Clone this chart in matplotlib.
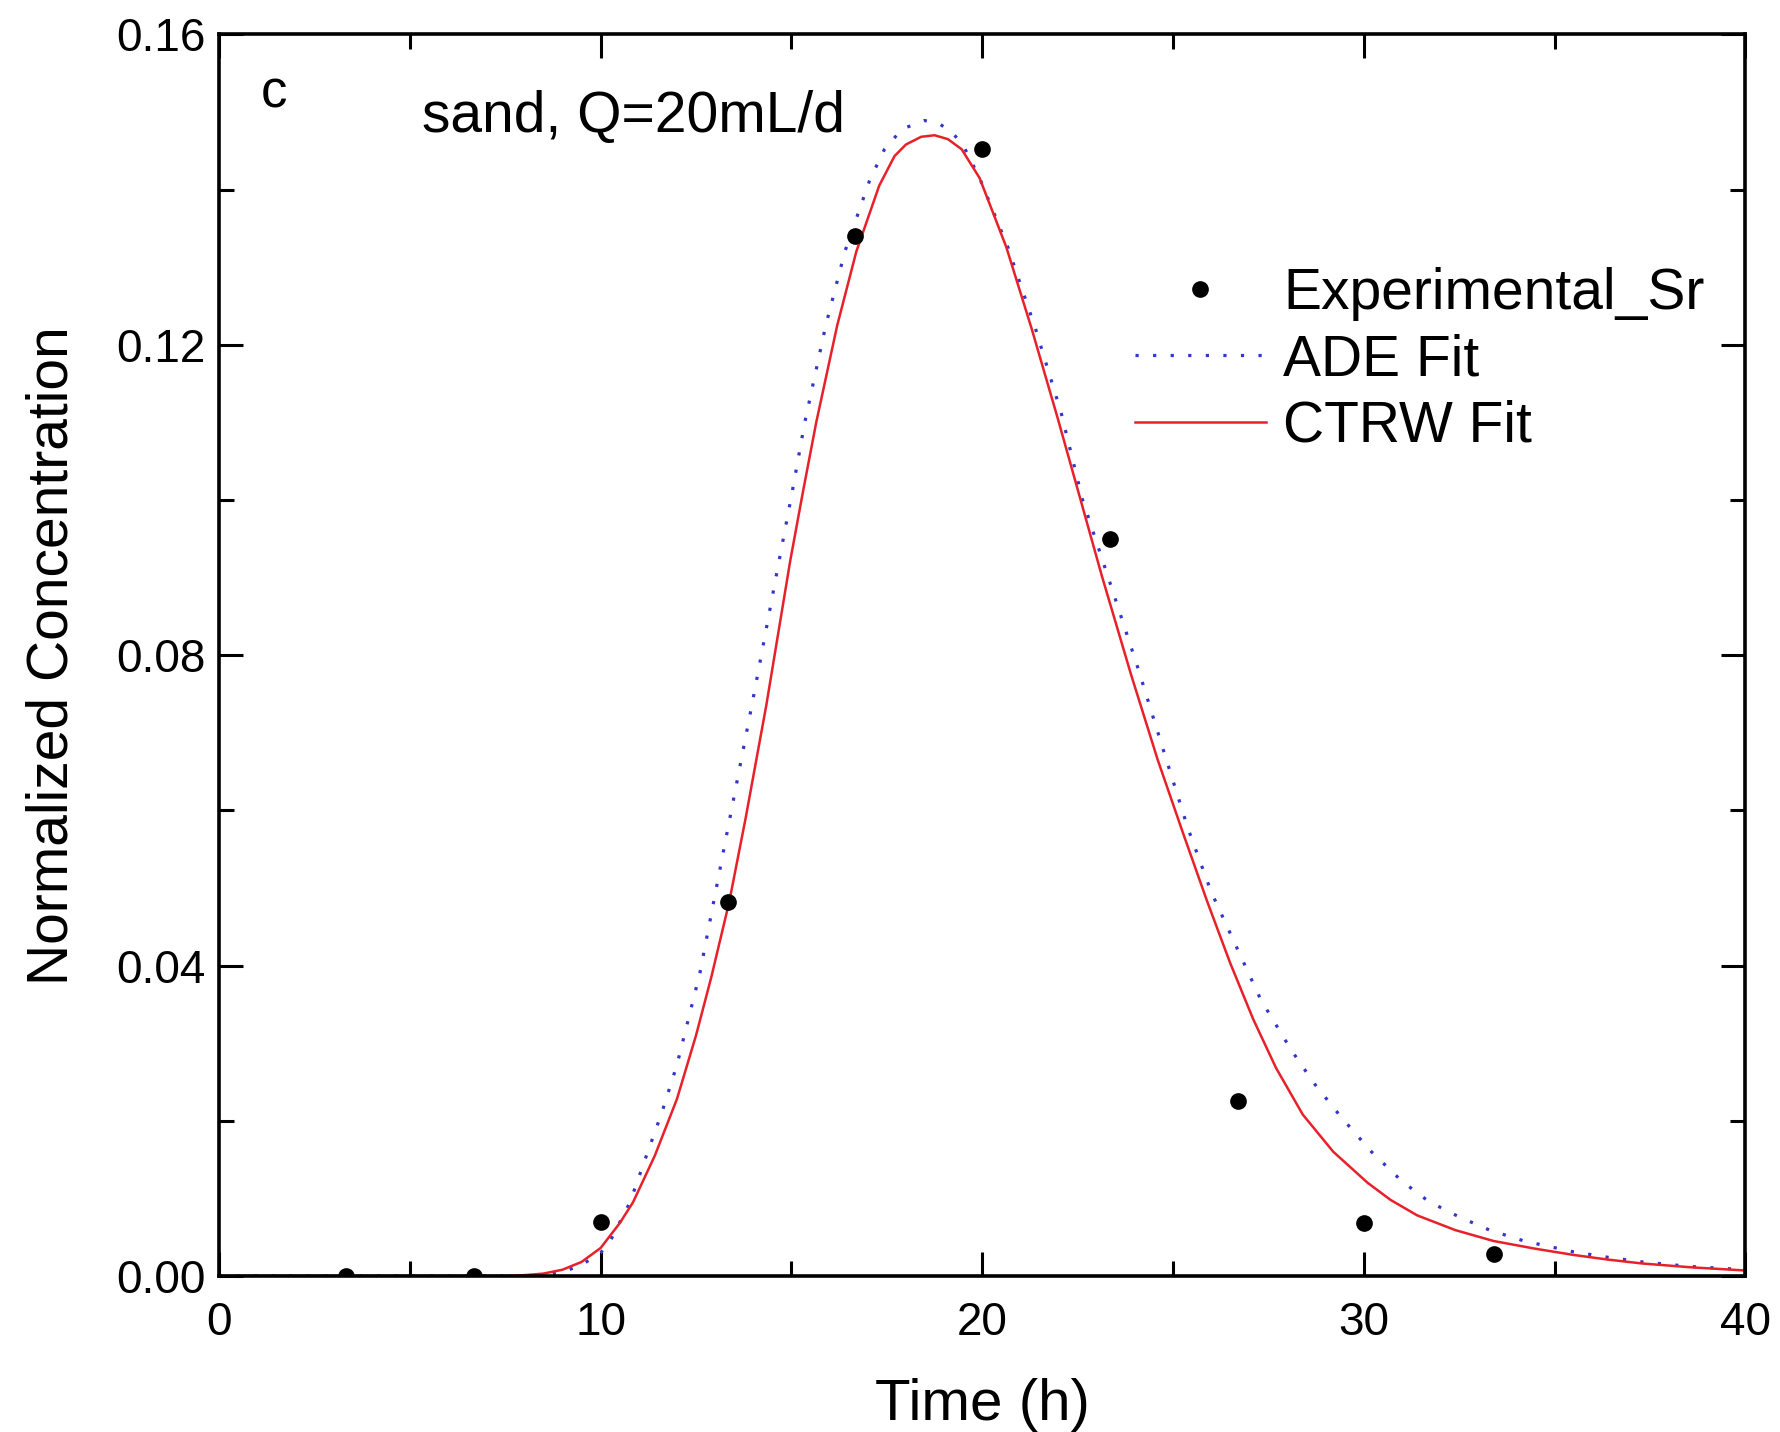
import matplotlib
matplotlib.use('Agg')
import matplotlib.pyplot as plt
from matplotlib.ticker import MultipleLocator, FormatStrFormatter

plt.rcParams['font.family'] = ['Liberation Sans', 'DejaVu Sans']

# --- DATA ---
exp_time = [3.33, 6.67, 10.0, 13.33, 16.67, 20.0, 23.36, 26.7, 30.0, 33.4]
exp_conc = [0.0, 0.0, 0.0070, 0.0482, 0.1340, 0.1452, 0.0950, 0.0225, 0.0068, 0.0028]

ade_time = [0.0, 5.0, 8.0, 8.5, 9.0, 9.5, 10.0, 10.2, 10.5, 10.77, 11.2, 11.6, 12.0,
            12.6, 13.3, 14.0, 14.67, 15.0, 15.35, 15.9, 16.4, 17.05, 17.44, 17.9,
            18.49, 18.9, 19.2, 19.49, 19.93, 20.67, 21.4, 22.07, 22.63, 23.35, 24.07,
            24.7, 25.39, 26.0, 26.7, 27.3, 28.1, 28.7, 29.4, 30.2, 31.0, 31.7, 32.5,
            33.3, 34.2, 35.5, 36.4, 37.3, 38.6, 40.0]
ade_conc = [0.0, 0.0, 0.0, 0.0001, 0.0005, 0.0014, 0.0030, 0.0040, 0.0069, 0.0095,
            0.0155, 0.0210, 0.0272, 0.0390, 0.0568, 0.0745, 0.0920, 0.1005, 0.1100,
            0.1225, 0.1320, 0.1412, 0.1452, 0.1478, 0.1489, 0.1484, 0.1474, 0.1458,
            0.1415, 0.1326, 0.1220, 0.1112, 0.1000, 0.0893, 0.0785, 0.0685, 0.0577,
            0.0495, 0.0420, 0.0356, 0.0291, 0.0248, 0.0205, 0.0160, 0.0122, 0.0096,
            0.0076, 0.0059, 0.0045, 0.0031, 0.0024, 0.0018, 0.0012, 0.0008]

ctrw_time = [0.0, 5.0, 7.5, 8.0, 8.5, 9.0, 9.5, 10.0, 10.5, 10.85, 11.42, 12.0, 12.5,
             12.9, 13.37, 13.8, 14.34, 14.97, 15.3, 15.65, 16.2, 16.7, 17.3, 17.7,
             18.0, 18.4, 18.75, 19.1, 19.46, 19.93, 20.63, 21.3, 21.98, 22.55, 23.13,
             23.9, 24.6, 25.26, 25.9, 26.5, 27.1, 27.7, 28.4, 29.2, 30.1, 30.7, 31.4,
             32.4, 33.4, 34.5, 35.5, 36.4, 37.3, 38.6, 40.0]
ctrw_conc = [0.0, 0.0, 0.0, 0.0001, 0.0003, 0.0008, 0.0018, 0.0036, 0.0068, 0.0095,
             0.0155, 0.0228, 0.0310, 0.0385, 0.0482, 0.0590, 0.0735, 0.0922, 0.1010,
             0.1100, 0.1225, 0.1320, 0.1405, 0.1443, 0.1458, 0.1468, 0.1470, 0.1465,
             0.1452, 0.1415, 0.1326, 0.1220, 0.1105, 0.1005, 0.0903, 0.0775, 0.0665,
             0.0571, 0.0482, 0.0403, 0.0331, 0.0268, 0.0208, 0.0160, 0.0120, 0.0098,
             0.0078, 0.0059, 0.0045, 0.0035, 0.0027, 0.0021, 0.0016, 0.0011, 0.0007]

fig = plt.figure(figsize=(17.81, 14.32), dpi=100)
ax = fig.add_axes([0.123, 0.109, 0.857, 0.867])

ax.plot(exp_time, exp_conc, 'o', color='black', markersize=11, label='Experimental_Sr', zorder=3)
ax.plot(ade_time, ade_conc, color='#3535c8', linewidth=2.3, linestyle=(0, (1, 4.5)),
        label='ADE Fit')
ax.plot(ctrw_time, ctrw_conc, color='#e8202a', linewidth=1.8, label='CTRW Fit')

ax.set_xlim(0, 40)
ax.set_ylim(0, 0.16)
ax.xaxis.set_major_locator(MultipleLocator(10))
ax.xaxis.set_minor_locator(MultipleLocator(5))
ax.yaxis.set_major_locator(MultipleLocator(0.04))
ax.yaxis.set_minor_locator(MultipleLocator(0.02))
ax.yaxis.set_major_formatter(FormatStrFormatter('%.2f'))

ax.tick_params(which='both', direction='in', top=True, right=True, width=2.2, labelsize=33)
ax.tick_params(axis='x', pad=18)
ax.tick_params(axis='y', pad=10)
ax.tick_params(which='major', length=17)
ax.tick_params(which='minor', length=11)
for s in ax.spines.values():
    s.set_linewidth(2.6)

ax.set_xlabel('Time (h)', fontsize=42, labelpad=24)
ax.set_ylabel('Normalized Concentration', fontsize=41, labelpad=26)

ax.text(0.0275, 0.941, 'c', transform=ax.transAxes, fontsize=38)
ax.text(0.133, 0.921, 'sand, Q=20mL/d', transform=ax.transAxes, fontsize=41)

ax.legend(loc='upper left', bbox_to_anchor=(0.6, 0.813), frameon=False, fontsize=41,
          handlelength=2.3, handletextpad=0.3, labelspacing=0.22, borderpad=0,
          borderaxespad=0, numpoints=1)

plt.savefig('out.png', dpi=100)
